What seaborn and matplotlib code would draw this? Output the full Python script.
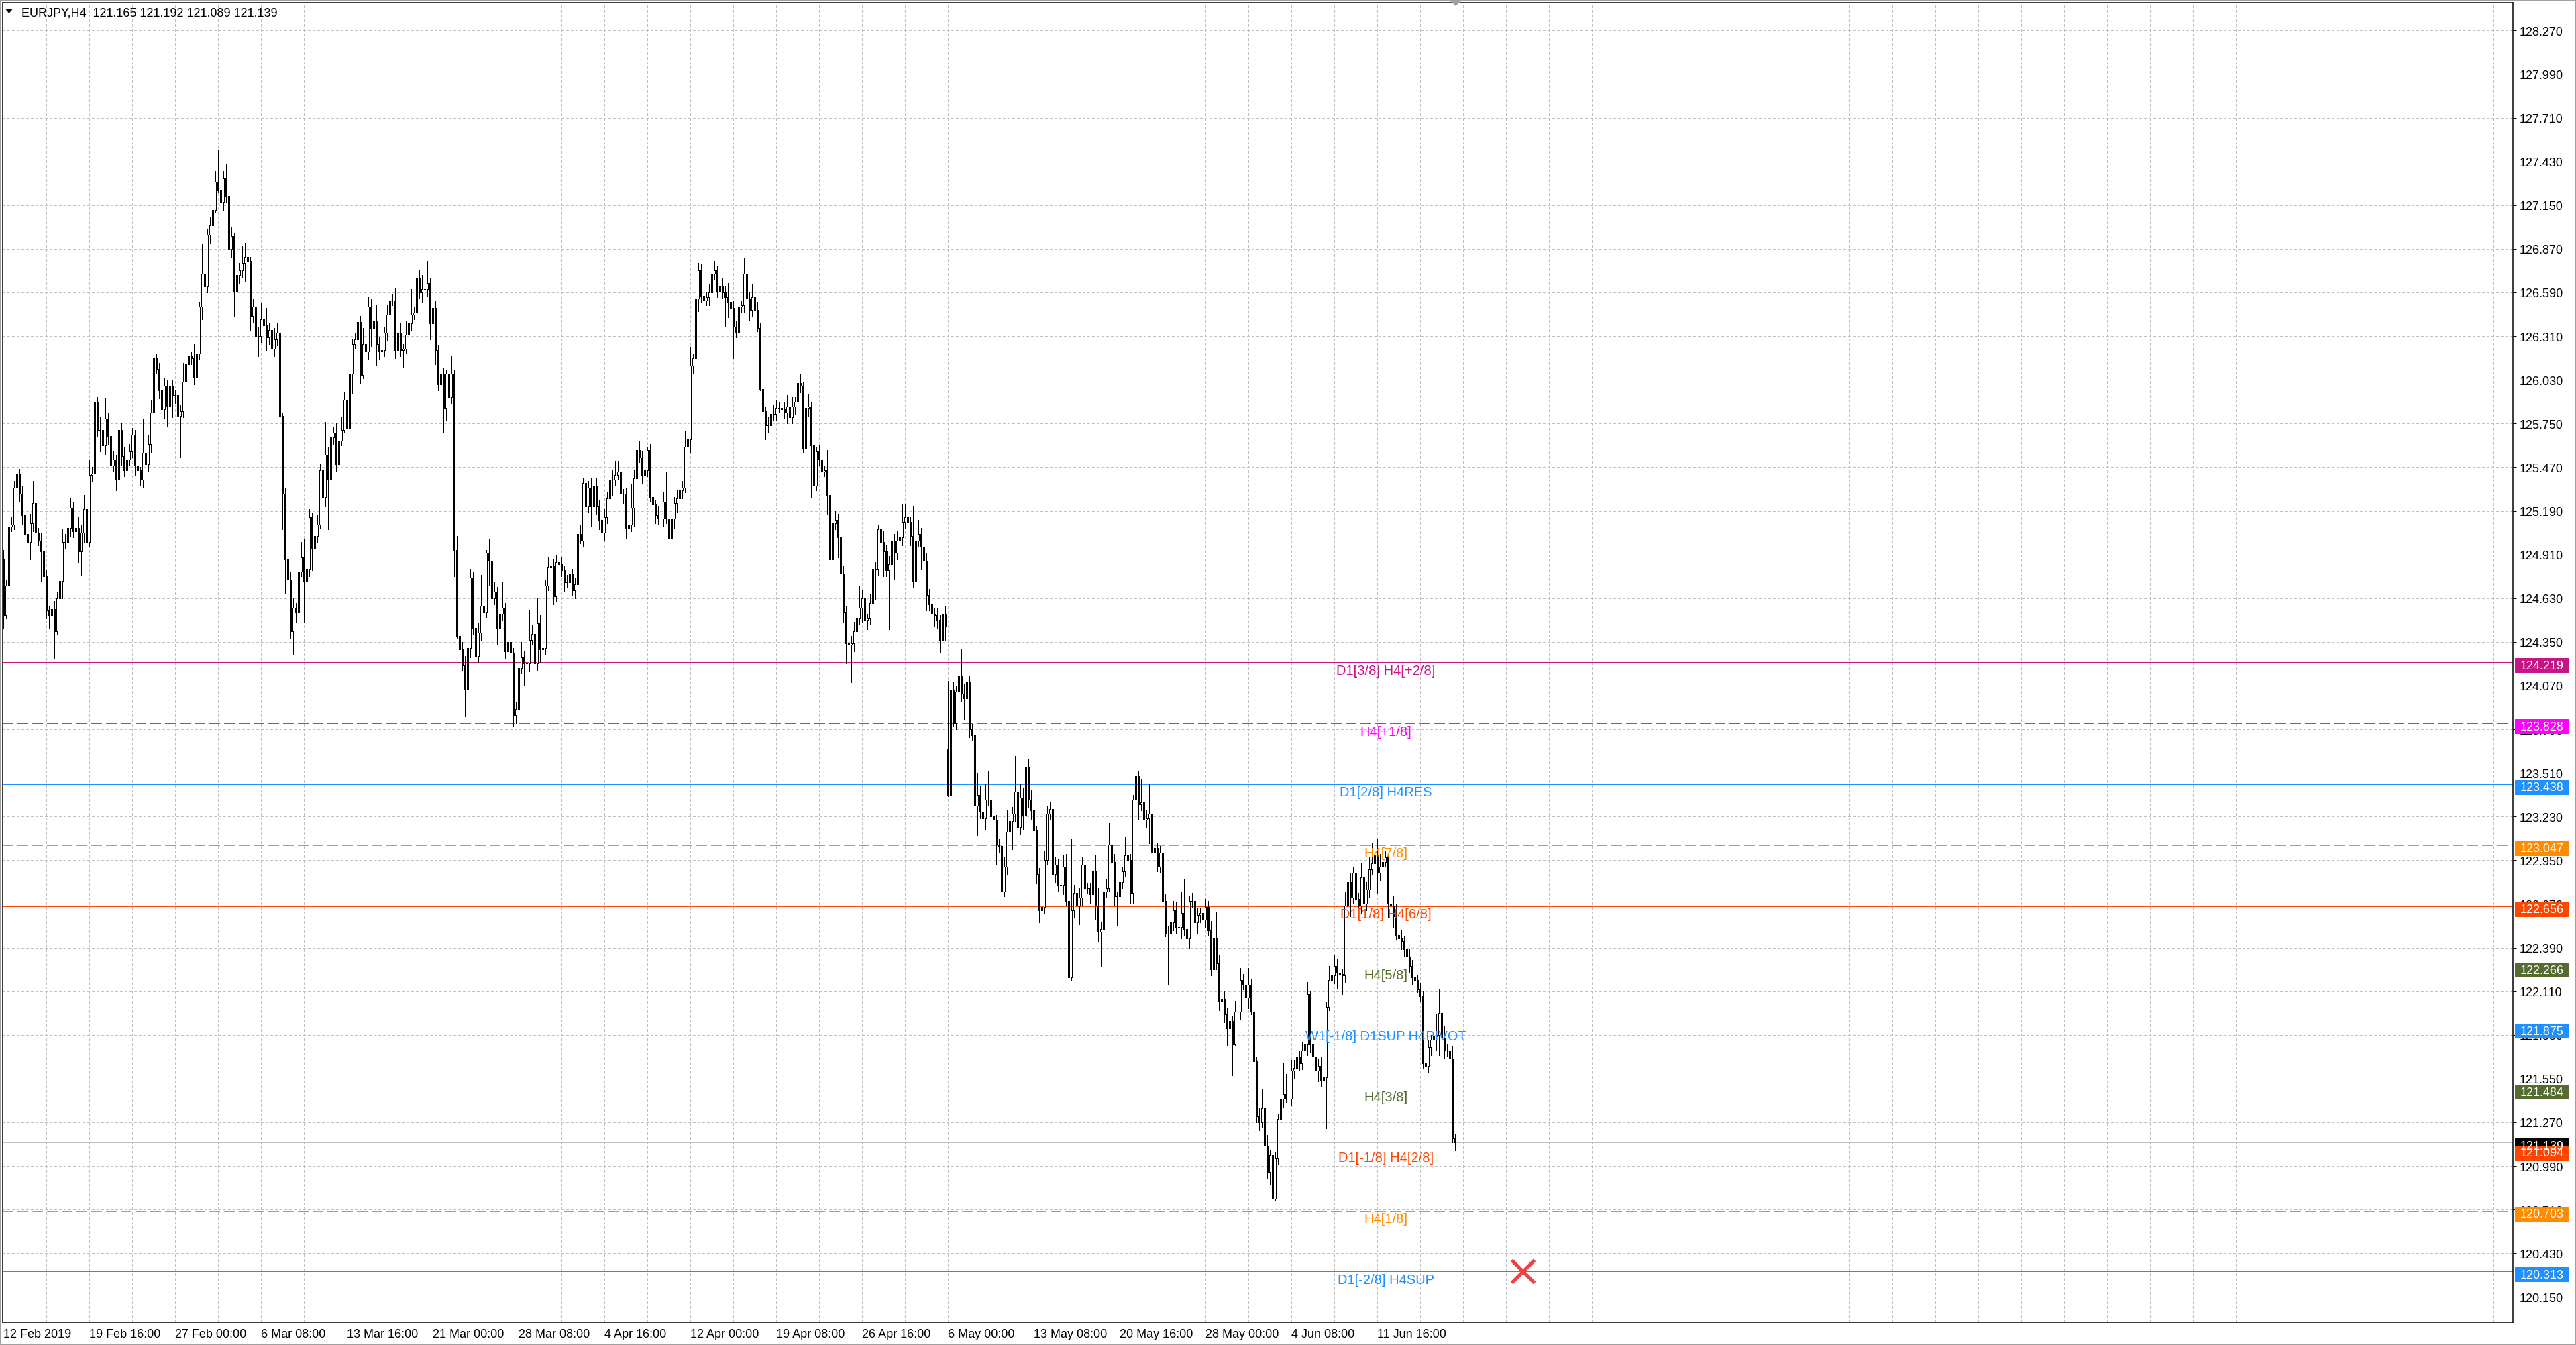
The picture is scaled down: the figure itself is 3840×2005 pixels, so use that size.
import numpy as np
import matplotlib
matplotlib.use("Agg")
import matplotlib.pyplot as plt
import matplotlib.transforms as mtransforms
from matplotlib.patches import Rectangle, Polygon
import seaborn as sns

# EURJPY H4 closes, one value per bar (16 bars per row)
closes = [
    124.52, 124.71, 125.09, 125.10, 125.34, 125.43, 125.30, 125.16, 125.04, 124.99, 125.11, 125.24, 125.05, 125.00, 124.93, 124.77,
    124.55, 124.52, 124.56, 124.42, 124.63, 124.74, 124.99, 124.99, 125.08, 125.21, 125.06, 125.08, 124.93, 125.05, 125.20, 124.99,
    125.42, 125.43, 125.89, 125.71, 125.71, 125.61, 125.78, 125.67, 125.48, 125.52, 125.39, 125.71, 125.54, 125.45, 125.52, 125.57,
    125.68, 125.48, 125.45, 125.39, 125.56, 125.49, 125.62, 125.82, 126.17, 126.10, 125.96, 125.84, 125.99, 125.86, 125.99, 125.93,
    125.93, 125.80, 125.83, 126.02, 126.13, 126.18, 126.17, 126.05, 126.20, 126.50, 126.71, 126.63, 126.96, 127.02, 127.12, 127.30,
    127.25, 127.17, 127.32, 127.21, 126.87, 126.95, 126.60, 126.70, 126.73, 126.78, 126.82, 126.79, 126.44, 126.50, 126.31, 126.31,
    126.42, 126.38, 126.30, 126.35, 126.23, 126.29, 126.33, 125.80, 125.30, 124.88, 124.75, 124.42, 124.57, 124.54, 124.80, 124.89,
    124.74, 124.82, 125.15, 124.95, 125.03, 125.10, 125.45, 125.28, 125.55, 125.39, 125.66, 125.69, 125.49, 125.64, 125.71, 125.90,
    125.72, 126.07, 126.26, 126.29, 126.40, 126.06, 126.26, 126.21, 126.50, 126.36, 126.41, 126.26, 126.21, 126.22, 126.33, 126.45,
    126.54, 126.54, 126.22, 126.33, 126.22, 126.23, 126.32, 126.39, 126.45, 126.46, 126.68, 126.59, 126.61, 126.61, 126.65, 126.39,
    126.49, 126.22, 126.00, 126.07, 125.85, 126.07, 125.92, 126.07, 124.94, 124.39, 124.30, 124.20, 124.05, 124.31, 124.76, 124.44,
    124.26, 124.41, 124.58, 124.54, 124.92, 124.87, 124.63, 124.67, 124.44, 124.53, 124.57, 124.29, 124.35, 124.28, 123.88, 123.92,
    124.18, 124.25, 124.21, 124.21, 124.36, 124.40, 124.21, 124.47, 124.30, 124.31, 124.71, 124.83, 124.84, 124.64, 124.86, 124.85,
    124.81, 124.73, 124.73, 124.79, 124.68, 124.72, 125.04, 125.00, 125.37, 125.22, 125.34, 125.22, 125.35, 125.22, 125.13, 125.05,
    125.15, 125.27, 125.39, 125.39, 125.42, 125.44, 125.30, 125.30, 125.08, 125.10, 125.21, 125.40, 125.58, 125.53, 125.42, 125.45,
    125.58, 125.28, 125.23, 125.16, 125.14, 125.14, 125.25, 125.14, 125.01, 125.14, 125.24, 125.27, 125.32, 125.34, 125.60, 125.65,
    126.12, 126.17, 126.55, 126.73, 126.57, 126.54, 126.56, 126.59, 126.71, 126.73, 126.60, 126.63, 126.59, 126.56, 126.53, 126.49,
    126.37, 126.33, 126.50, 126.51, 126.71, 126.55, 126.48, 126.56, 126.48, 126.36, 125.97, 125.83, 125.74, 125.74, 125.81, 125.81,
    125.85, 125.85, 125.84, 125.82, 125.86, 125.79, 125.86, 125.89, 126.01, 125.99, 125.59, 125.85, 125.86, 125.61, 125.35, 125.57,
    125.52, 125.44, 125.45, 125.29, 124.88, 125.11, 125.13, 125.02, 124.79, 124.54, 124.34, 124.33, 124.34, 124.42, 124.50, 124.57,
    124.63, 124.49, 124.50, 124.60, 124.82, 124.82, 125.07, 124.99, 124.93, 124.81, 124.85, 125.00, 124.92, 125.00, 125.02, 125.12,
    125.15, 125.12, 125.03, 124.74, 125.00, 125.04, 124.96, 124.87, 124.65, 124.59, 124.53, 124.52, 124.49, 124.36, 124.53, 124.45,
    123.37, 124.04, 123.83, 124.03, 124.13, 124.02, 123.99, 124.09, 123.79, 123.75, 123.30, 123.37, 123.26, 123.22, 123.34, 123.34,
    123.23, 123.21, 123.05, 123.04, 122.75, 122.91, 123.13, 123.20, 123.25, 123.39, 123.16, 123.35, 123.24, 123.55, 123.34, 123.27,
    123.14, 122.86, 122.63, 122.65, 122.95, 123.25, 123.28, 122.86, 122.92, 122.79, 122.79, 122.91, 122.69, 122.20, 122.63, 122.74,
    122.66, 122.71, 122.92, 122.77, 122.77, 122.73, 122.88, 122.66, 122.49, 122.51, 122.75, 122.77, 123.05, 122.94, 122.72, 122.72,
    122.81, 122.88, 122.98, 122.95, 122.74, 123.34, 123.49, 123.31, 123.32, 123.21, 123.22, 123.25, 123.00, 123.03, 122.91, 123.00,
    122.69, 122.48, 122.48, 122.55, 122.63, 122.52, 122.52, 122.61, 122.51, 122.45, 122.69, 122.69, 122.55, 122.60, 122.61, 122.57,
    122.65, 122.50, 122.25, 122.45, 122.29, 122.05, 122.06, 121.96, 121.87, 121.92, 121.77, 121.98, 121.98, 122.18, 122.15, 122.07,
    122.15, 121.98, 121.66, 121.31, 121.27, 121.36, 121.12, 120.95, 121.06, 120.78, 121.04, 121.29, 121.42, 121.45, 121.42, 121.42,
    121.60, 121.62, 121.69, 121.65, 121.73, 121.77, 122.09, 121.77, 121.69, 121.60, 121.63, 121.54, 121.56, 122.01, 122.18, 122.21,
    122.27, 122.23, 122.22, 122.21, 122.66, 122.81, 122.71, 122.87, 122.70, 122.66, 122.84, 122.67, 122.76, 122.89, 122.93, 122.98,
    122.87, 122.91, 122.94, 122.97, 122.67, 122.66, 122.59, 122.47, 122.45, 122.43, 122.38, 122.33, 122.27, 122.20, 122.18, 122.12,
    122.08, 121.65, 121.63, 121.75, 121.80, 121.82, 121.83, 121.97, 121.81, 121.73, 121.73, 121.68, 121.165, 121.139,
]
first_open = 124.88
gap_opens = {352: 123.66}   # weekend gap (6 May)

# wick lengths above / below the body, in 0.01 yen
wick_up = [
    6, 4, 3, 5, 4, 10, 3, 5, 2, 4, 6, 14, 20, 3, 5, 2,
    4, 3, 6, 5, 4, 3, 8, 5, 3, 6, 4, 3, 7, 5, 9, 4,
    10, 4, 5, 3, 8, 6, 13, 4, 3, 5, 3, 15, 4, 6, 9, 5,
    4, 3, 5, 2, 22, 4, 6, 8, 13, 3, 4, 5, 5, 4, 3, 4,
    3, 6, 4, 12, 22, 5, 3, 9, 4, 3, 19, 6, 4, 5, 3, 7,
    20, 4, 5, 9, 3, 6, 2, 4, 5, 11, 9, 6, 3, 5, 8, 6,
    10, 5, 11, 4, 6, 7, 6, 3, 2, 4, 8, 5, 6, 3, 7, 10,
    12, 5, 5, 3, 4, 6, 4, 7, 21, 5, 17, 4, 6, 5, 8, 5,
    6, 2, 3, 4, 16, 4, 10, 5, 6, 5, 3, 10, 4, 5, 4, 6,
    14, 4, 8, 5, 6, 3, 9, 5, 16, 4, 6, 5, 9, 4, 14, 3,
    4, 5, 3, 5, 4, 2, 6, 11, 2, 9, 4, 5, 6, 3, 6, 4,
    4, 6, 20, 3, 2, 9, 4, 6, 3, 4, 16, 3, 5, 4, 3, 4,
    5, 10, 4, 3, 19, 6, 4, 16, 5, 3, 4, 6, 7, 4, 5, 3,
    4, 3, 5, 6, 3, 4, 16, 6, 3, 7, 4, 6, 3, 5, 4, 3,
    5, 4, 10, 6, 9, 7, 5, 3, 4, 3, 15, 5, 3, 6, 4, 17,
    2, 4, 5, 3, 6, 4, 6, 19, 3, 5, 4, 5, 10, 4, 10, 5,
    12, 3, 8, 5, 4, 6, 3, 5, 4, 6, 3, 5, 5, 4, 9, 4,
    5, 4, 12, 3, 10, 7, 4, 8, 2, 5, 3, 4, 3, 5, 8, 6,
    5, 4, 3, 5, 7, 4, 6, 3, 5, 6, 3, 5, 8, 3, 4, 3,
    4, 5, 3, 13, 3, 12, 6, 4, 3, 5, 4, 3, 5, 6, 8, 14,
    5, 4, 3, 6, 3, 4, 3, 5, 7, 4, 5, 8, 4, 6, 3, 11,
    8, 6, 3, 19, 5, 9, 4, 3, 5, 4, 3, 4, 5, 3, 7, 5,
    44, 3, 5, 4, 9, 17, 6, 16, 4, 3, 5, 14, 6, 4, 10, 18,
    4, 5, 3, 4, 5, 6, 14, 5, 4, 23, 5, 9, 6, 4, 5, 6,
    5, 3, 4, 5, 6, 5, 4, 12, 5, 4, 3, 7, 8, 5, 46, 5,
    4, 6, 5, 4, 3, 3, 3, 10, 11, 4, 5, 6, 14, 4, 5, 3,
    4, 3, 12, 5, 4, 3, 26, 3, 15, 4, 5, 19, 6, 7, 3, 4,
    3, 4, 5, 11, 6, 5, 3, 14, 22, 24, 3, 5, 9, 4, 3, 5,
    5, 4, 6, 4, 17, 5, 15, 5, 4, 6, 3, 7, 6, 8, 4, 5,
    11, 4, 2, 3, 5, 12, 4, 7, 3, 2, 4, 3, 7, 20, 13, 6,
    7, 5, 6, 4, 5, 4, 8, 2, 6, 4, 5, 6, 4, 3, 9, 13,
    7, 5, 5, 3, 9, 10, 6, 4, 10, 4, 9, 6, 5, 8, 13, 19,
    11, 8, 5, 4, 3, 4, 6, 8, 4, 5, 3, 4, 5, 4, 6, 3,
    4, 3, 4, 5, 3, 4, 13, 15, 6, 8, 4, 3, 8, 2.7,
]
wick_dn = [
    8, 2, 7, 3, 3, 4, 5, 6, 4, 3, 11, 5, 11, 3, 19, 4,
    5, 8, 27, 18, 2, 5, 11, 4, 3, 5, 4, 6, 7, 15, 6, 12,
    3, 4, 8, 4, 14, 13, 6, 5, 14, 4, 7, 5, 6, 4, 5, 4,
    4, 6, 5, 4, 5, 4, 5, 6, 4, 3, 5, 8, 6, 13, 5, 14,
    5, 4, 27, 4, 5, 2, 4, 5, 18, 4, 8, 3, 4, 5, 3, 2,
    2, 3, 5, 4, 7, 5, 16, 7, 5, 4, 12, 5, 9, 4, 6, 13,
    4, 5, 8, 4, 3, 5, 4, 5, 23, 22, 4, 5, 15, 6, 14, 3,
    26, 3, 5, 14, 5, 4, 2, 3, 6, 32, 13, 4, 5, 4, 3, 2,
    8, 4, 13, 3, 4, 5, 2, 6, 5, 12, 4, 14, 5, 3, 4, 5,
    4, 3, 5, 10, 4, 11, 3, 5, 4, 3, 1, 4, 6, 7, 4, 10,
    5, 9, 4, 5, 16, 8, 14, 4, 17, 2, 47, 3, 18, 5, 6, 4,
    10, 4, 5, 7, 3, 16, 2, 4, 11, 6, 4, 5, 4, 3, 7, 5,
    27, 3, 14, 4, 5, 3, 5, 4, 8, 3, 4, 3, 4, 5, 3, 2,
    4, 6, 3, 4, 3, 5, 2, 2, 4, 13, 4, 13, 4, 5, 6, 9,
    5, 4, 3, 10, 4, 3, 5, 6, 7, 8, 4, 12, 4, 3, 5, 7,
    4, 3, 7, 5, 4, 10, 5, 3, 23, 3, 6, 6, 4, 5, 3, 6,
    9, 5, 5, 8, 4, 4, 3, 5, 8, 4, 4, 5, 4, 19, 10, 4,
    20, 3, 7, 4, 5, 3, 7, 4, 5, 2, 1, 14, 9, 5, 6, 4,
    4, 3, 5, 4, 7, 3, 4, 5, 3, 4, 3, 2, 5, 33, 7, 3,
    4, 6, 3, 12, 8, 5, 4, 13, 14, 6, 13, 2, 24, 5, 3, 4,
    9, 5, 6, 4, 3, 20, 4, 5, 16, 4, 38, 5, 17, 4, 3, 5,
    4, 5, 6, 4, 3, 4, 14, 5, 10, 4, 6, 7, 5, 8, 4, 9,
    1, 1, 2, 4, 3, 5, 14, 4, 5, 3, 10, 19, 4, 8, 7, 4,
    3, 6, 13, 4, 26, 3, 5, 4, 18, 5, 5, 4, 9, 19, 5, 6,
    5, 6, 8, 5, 4, 3, 4, 21, 5, 4, 3, 6, 3, 12, 2, 5,
    2, 12, 5, 4, 3, 6, 4, 9, 6, 22, 2, 4, 2, 5, 6, 19,
    5, 4, 3, 5, 7, 7, 13, 10, 4, 4, 5, 16, 2, 5, 3, 4,
    4, 2, 33, 7, 5, 4, 5, 7, 4, 3, 6, 4, 3, 7, 5, 4,
    5, 3, 4, 5, 4, 6, 4, 5, 11, 4, 20, 1, 4, 5, 3, 6,
    7, 2, 5, 4, 5, 3, 4, 4, 8, 1, 1, 4, 3, 5, 2, 4,
    4, 5, 8, 5, 4, 3, 7, 5, 4, 2, 7, 4, 5, 33, 2, 4,
    5, 10, 6, 12, 4, 3, 12, 4, 7, 7, 5, 6, 4, 5, 3, 4,
    13, 5, 4, 3, 9, 4, 7, 3, 10, 5, 5, 6, 4, 5, 4, 2,
    3, 3, 4, 4, 5, 4, 9, 13, 7, 5, 4, 5, 2.5, 5,
]

# Murrey-math style levels drawn on the chart
level_prices = [124.219, 123.828, 123.438, 123.047, 122.656, 122.266, 121.875, 121.484, 121.094, 120.703, 120.313]
level_names = ["D1[3/8] H4[+2/8]", "H4[+1/8]", "D1[2/8] H4RES", "H4[7/8]", "D1[1/8] H4[6/8]", "H4[5/8]",
               "W1[-1/8] D1SUP H4PIVOT", "H4[3/8]", "D1[-1/8] H4[2/8]", "H4[1/8]", "D1[-2/8] H4SUP"]
level_colors = ["#C71585", "#FF00FF", "#1E90FF", "#FF8C00", "#FF4500", "#556B2F",
                "#1E90FF", "#556B2F", "#FF4500", "#FF8C00", "#1E90FF"]
level_dashed = [False, True, False, True, False, True, False, True, False, True, False]

bid_price = 121.139
title_text = "EURJPY,H4  121.165 121.192 121.089 121.139"

y_ticks = [120.150, 120.430, 120.710, 120.990, 121.270, 121.550, 121.830, 122.110, 122.390, 122.670,
           122.950, 123.230, 123.510, 123.790, 124.070, 124.350, 124.630, 124.910, 125.190, 125.470,
           125.750, 126.030, 126.310, 126.590, 126.870, 127.150, 127.430, 127.710, 127.990, 128.270]
date_pos = [0, 32, 64, 96, 128, 160, 192, 224, 256, 288, 320, 352, 384, 416, 448, 480, 512]
date_labels = ["12 Feb 2019", "19 Feb 16:00", "27 Feb 00:00", "6 Mar 08:00", "13 Mar 16:00", "21 Mar 00:00",
               "28 Mar 08:00", "4 Apr 16:00", "12 Apr 00:00", "19 Apr 08:00", "26 Apr 16:00", "6 May 00:00",
               "13 May 08:00", "20 May 16:00", "28 May 00:00", "4 Jun 08:00", "11 Jun 16:00"]
marker_bar, marker_price = 566.25, 120.313

# ---------------------------------------------------------------
sns.set_theme(style="white")
plt.rcParams['font.family'] = ['Liberation Sans', 'DejaVu Sans']
plt.rcParams['lines.scale_dashes'] = False

PX = 0.72  # points per pixel at dpi 100
W, H = 3840, 2006
fig = plt.figure(figsize=(W / 100, H / 100), dpi=100)
ax = fig.add_axes([4 / W, 1 - 1972 / H, 3742 / W, 1967 / H])
ax.set_xlim(-0.25, 935.25)
ax.set_ylim(119.988, 128.448)
ppu = 1967 / (128.448 - 119.988)   # pixels per price unit

n = len(closes)
assert len(wick_up) == n and len(wick_dn) == n, (n, len(wick_up), len(wick_dn))
opens = [first_open] + closes[:-1]
for k, v in gap_opens.items():
    opens[k] = v
o = np.array(opens)
c = np.array(closes)
xb = np.arange(n)
top = np.maximum(o, c)
bot = np.minimum(o, c)
hi = top + np.array(wick_up) / 100
lo = bot - np.array(wick_dn) / 100

# grid
for t in y_ticks:
    g = ax.axhline(t, color="#C0C0C0", lw=PX, zorder=1, antialiased=False)
    g.set_dashes((3 * PX, 3 * PX))
for b in range(16, 936, 16):
    g = ax.axvline(b, color="#C0C0C0", lw=PX, zorder=1, antialiased=False)
    g.set_dashes((3 * PX, 3 * PX))

# levels
ax.axhline(bid_price, color="#C0C0C0", lw=PX, zorder=2, antialiased=False)
for p, name, col, dsh in zip(level_prices, level_names, level_colors, level_dashed):
    ln = ax.axhline(p, color=col, lw=PX, zorder=2, antialiased=False)
    if dsh:
        ln.set_dashes((16 * PX, 6 * PX))

# candles
ax.vlines(xb, lo, hi, color="black", lw=PX, zorder=3, antialiased=False)
face = np.where(c >= o, "white", "black")
ax.bar(xb, top - bot, bottom=bot, width=0.5, color=face, edgecolor="black",
       linewidth=PX, zorder=4, antialiased=False)

# level labels
label_bar = 515.25
for p, name, col in zip(level_prices, level_names, level_colors):
    ax.annotate(name, xy=(label_bar, p), xytext=(0, -12 * PX), textcoords="offset points",
                ha="center", va="center", color=col, fontsize=14.5, zorder=7,
                annotation_clip=False)

# red cross marker
ax.plot([marker_bar], [marker_price], marker="x", ms=24, mew=3.8, color="#EC4444",
        zorder=8, clip_on=False)

# axes styling
for s in ax.spines.values():
    s.set_color("black")
    s.set_linewidth(1.5 * PX)
ax.yaxis.tick_right()
ax.set_yticks(y_ticks)
ax.set_yticklabels([f"{t:.3f}" for t in y_ticks])
ax.tick_params(axis="y", direction="out", length=5 * PX, width=PX, pad=5 * PX,
               labelsize=13, colors="black", left=False, right=True)
ax.set_xticks(date_pos)
ax.set_xticklabels(date_labels, ha="left")
ax.tick_params(axis="x", direction="out", length=3 * PX, width=PX, pad=6 * PX,
               labelsize=13, colors="black")
ax.grid(False)

# price boxes on the right axis
trans = mtransforms.blended_transform_factory(ax.transAxes, ax.transData)
box_x0 = (3748.5 - 4) / 3742
box_w = 80 / 3742
text_x = (3757 - 4) / 3742


def price_box(p, col):
    yc = p - 5 / ppu
    ax.add_patch(Rectangle((box_x0, yc - 11 / ppu), box_w, 22 / ppu, transform=trans,
                           facecolor=col, edgecolor="none", clip_on=False, zorder=8))
    ax.text(text_x, yc, f"{p:.3f}", transform=trans, color="white", fontsize=13,
            va="center", ha="left", clip_on=False, zorder=9)


price_box(bid_price, "black")
for p, col in zip(level_prices, level_colors):
    price_box(p, col)

# title and small markers
fig.text(32 / W, 1 - 20 / H, title_text, fontsize=13, color="black", va="center", ha="left")
fig.add_artist(Polygon([(8.5 / W, 1 - 15 / H), (18.5 / W, 1 - 15 / H), (13.5 / W, 1 - 21 / H)],
                       closed=True, transform=fig.transFigure, facecolor="black", edgecolor="none"))
fig.add_artist(Polygon([(2161 / W, 1 - 2 / H), (2179 / W, 1 - 2 / H), (2170 / W, 1 - 10 / H)],
                       closed=True, transform=fig.transFigure, facecolor="#A0A0A0", edgecolor="none"))
fig.add_artist(Rectangle((0, 0), 1, 1, transform=fig.transFigure, fill=False,
                         edgecolor="#A0A0A0", lw=3 * PX))

fig.savefig("out.png", dpi=100, facecolor="white")
